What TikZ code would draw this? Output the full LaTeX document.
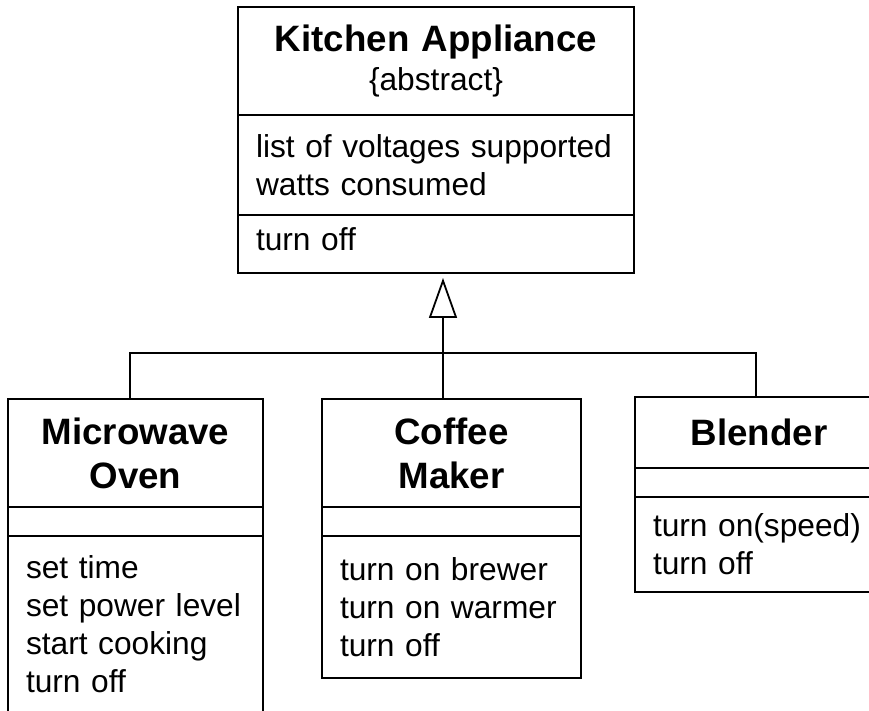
\documentclass[tikz,border=0pt]{standalone}
\usepackage{fontspec}
\setmainfont{Liberation Sans}
\usetikzlibrary{arrows.meta,positioning}
\tikzset{
  cname/.style={rectangle, draw, line width=1.1pt, outer sep=0pt, inner xsep=9pt, inner ysep=0pt,
                text width=#1, align=center, font=\bfseries\fontsize{18.35}{22}\selectfont},
  cpart/.style={rectangle, draw, line width=1.1pt, outer sep=0pt, inner xsep=9pt, inner ysep=0pt,
                text width=#1, align=left, font=\fontsize{15.85}{19}\selectfont},
  link/.style={line width=0.9pt},
  inherit/.style={-{Triangle[open, length=20pt, width=14pt]}, line width=0.9pt, shorten >=2.5pt},
}
\begin{document}
\begin{tikzpicture}[x=0.5pt, y=-0.5pt]
  \useasboundingbox (0,0) rectangle (869,711);
  \clip (0,0) rectangle (869,711);
  % superclass
  \node[cname=180pt, minimum height=54pt, anchor=north west] (kaT) at (238,7)
    {Kitchen Appliance\\[-2.5pt]{\normalfont\fontsize{15.85}{19}\selectfont\{abstract\}}};
  \node[cpart=180pt, minimum height=50pt, below=0pt of kaT] (kaA)
    {list of voltages supported\\watts consumed};
  \node[cpart=180pt, minimum height=29pt, text depth=4.8pt, below=0pt of kaA] (kaM) {turn off};
  % subclasses
  \node[cname=109.5pt, minimum height=54pt, anchor=north west] (moT) at (8,399) {Microwave\\Oven};
  \node[cpart=109.5pt, minimum height=14.5pt, below=0pt of moT] (moA) {};
  \node[cpart=109.5pt, minimum height=88.5pt, below=0pt of moA] (moM)
    {set time\\set power level\\start cooking\\turn off};
  \node[cname=111.5pt, minimum height=54pt, anchor=north west] (cmT) at (322,399) {Coffee\\Maker};
  \node[cpart=111.5pt, minimum height=14.5pt, below=0pt of cmT] (cmA) {};
  \node[cpart=111.5pt, minimum height=71pt, below=0pt of cmA] (cmM)
    {turn on brewer\\turn on warmer\\turn off};
  \node[cname=106pt, minimum height=35.5pt, anchor=north west] (blT) at (635,397) {Blender};
  \node[cpart=106pt, minimum height=14.5pt, below=0pt of blT] (blA) {};
  \node[cpart=106pt, minimum height=47.5pt, below=0pt of blA] (blM)
    {turn on(speed)\\turn off};
  % generalization
  \coordinate (hub) at (443,353);
  \coordinate (busL) at (130,353);
  \coordinate (busR) at (756,353);
  \draw[inherit] (hub |- cmT.north) -- (hub |- kaM.south);
  \draw[link] (busL |- moT.north) -- (busL) -- (busR) -- (busR |- blT.north);
\end{tikzpicture}
\end{document}
